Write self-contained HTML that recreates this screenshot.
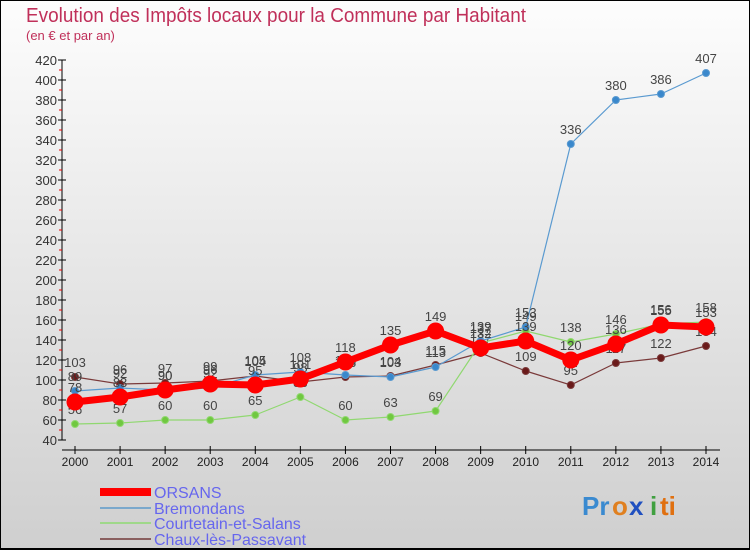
<!DOCTYPE html>
<html><head><meta charset="utf-8"><style>
body{margin:0;}
svg text{font-family:"Liberation Sans",sans-serif;}
</style></head><body>
<svg id="c" width="750" height="550" xmlns="http://www.w3.org/2000/svg">
<defs><linearGradient id="bg" x1="0" y1="0" x2="0" y2="1"><stop offset="0" stop-color="#fdfdfd"/><stop offset="1" stop-color="#cfcfcf"/></linearGradient></defs>
<rect x="0.5" y="0.5" width="749" height="548" fill="url(#bg)" stroke="#000"/>
<line x1="0" y1="549" x2="750" y2="549" stroke="#000" stroke-width="2"/>
<text x="26" y="22" font-size="20" fill="#c0305a" textLength="500" lengthAdjust="spacingAndGlyphs">Evolution des Impôts locaux pour la Commune par Habitant</text>
<text x="26" y="40" font-size="13" fill="#c0305a">(en € et par an)</text>
<g id="axes"></g><g id="series"></g>
<g font-size="16" fill="#6666ee">
<line x1="100" y1="492" x2="151" y2="492" stroke="#f00" stroke-width="8"/>
<text x="154" y="498">ORSANS</text>
<line x1="100" y1="508" x2="151" y2="508" stroke="#7aa8cc" stroke-width="2"/>
<text x="154" y="514">Bremondans</text>
<line x1="100" y1="523" x2="151" y2="523" stroke="#9fd88a" stroke-width="2"/>
<text x="154" y="529">Courtetain-et-Salans</text>
<line x1="100" y1="539" x2="151" y2="539" stroke="#8a6060" stroke-width="2"/>
<text x="154" y="545">Chaux-lès-Passavant</text>
</g>
<g font-size="26" font-weight="bold">
<text x="582" y="515" fill="#3a8ad0">Pr</text><text x="612" y="515" fill="#e08020">o</text><text x="629" y="515" fill="#2050c0">x</text><text x="650" y="515" fill="#40a040">i</text><text x="660" y="515" fill="#e07010">ti</text>
</g>
</svg>
<script>
const years=["2000","2001","2002","2003","2004","2005","2006","2007","2008","2009","2010","2011","2012","2013","2014"];
const yTicks=[40,60,80,100,120,140,160,180,200,220,240,260,280,300,320,340,360,380,400,420];
const orsans=[78,83,90,96,95,101,118,135,149,132,139,120,136,155,153];
const bremondans=[89,92,90,92,105,108,105,103,113,139,153,336,380,386,407];
const courtetain=[56,57,60,60,65,83,60,63,69,137,149,138,146,156,158];
const chaux=[103,96,97,99,104,98,103,104,115,127,109,95,117,122,134];
const NS="http://www.w3.org/2000/svg";
const X=i=>75+i*(706-75)/(years.length-1);
const Y=v=>440-(v-40);
function mk(t,a,p,txt){const e=document.createElementNS(NS,t);for(const k in a)e.setAttribute(k,a[k]);if(txt!==undefined)e.textContent=txt;p.appendChild(e);return e;}
const ax=document.getElementById('axes');
let l=mk('line',{x1:62,y1:Y(420),x2:62,y2:Y(40),stroke:'#000'},ax);


yTicks.forEach(v=>{mk('line',{x1:58,y1:Y(v),x2:66,y2:Y(v),stroke:'#000'},ax);
 if(v<420)mk('line',{x1:59,y1:Y(v+10),x2:62,y2:Y(v+10),stroke:'#e00'},ax);
 const t=mk('text',{x:57,y:Y(v)+5,'text-anchor':'end','font-size':13,fill:'#333'},ax,v);
 
 });
l=mk('line',{x1:62,y1:450,x2:720,y2:450,stroke:'#000'},ax);


years.forEach((y,i)=>{mk('line',{x1:X(i),y1:446,x2:X(i),y2:454,stroke:'#000'},ax);
 const t=mk('text',{x:X(i),y:466,'text-anchor':'middle','font-size':12,fill:'#222'},ax,y);
 
 });
const sg=document.getElementById('series');
function draw(name,vals,color,w,r,dot){
 const g=mk('g',{},sg);
 
 
 mk('polyline',{points:vals.map((v,i)=>X(i)+','+Y(v)).join(' '),fill:'none',stroke:color,'stroke-width':w,'stroke-linejoin':'round'},g);
 vals.forEach((v,i)=>{const c=mk('circle',{cx:X(i),cy:Y(v),r:r,fill:dot,stroke:color,'stroke-width':1},g);
  
  
  const t=mk('text',{x:X(i),y:Y(v)-10,'text-anchor':'middle','font-size':13,fill:'#444'},g,v);
  
  });
}
draw('series-chaux',chaux,'#7a3a3a',1.2,3.5,'#6a1a1a');
draw('series-courtetain',courtetain,'#90d870',1.2,3.5,'#70c840');
draw('series-bremondans',bremondans,'#5a9ad0',1.2,3.5,'#3a88cc');
draw('series-orsans',orsans,'#f00',7,8,'#f00');
</script>
</body></html>
